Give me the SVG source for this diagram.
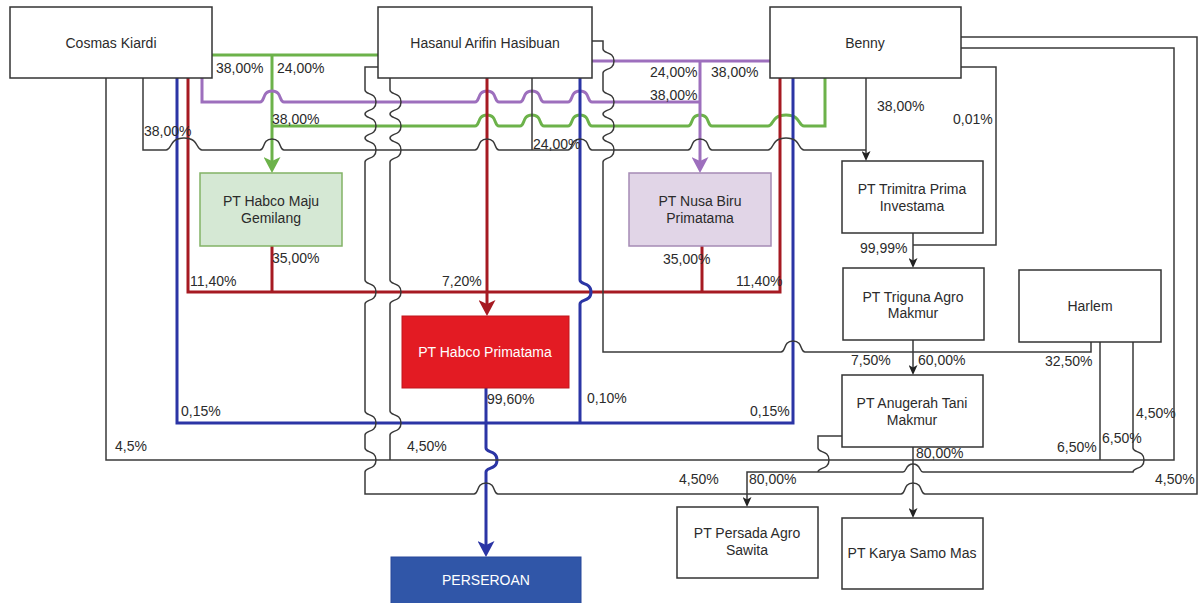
<svg xmlns="http://www.w3.org/2000/svg" width="1203" height="603" viewBox="0 0 1203 603">
<style>
.box{fill:#fff;stroke:#333;stroke-width:1.5}
.t{font-family:"Liberation Sans",Arial,sans-serif;font-size:14px;fill:#2b2b2b;text-anchor:middle}
.lb{font-family:"Liberation Sans",Arial,sans-serif;font-size:14px;fill:#2b2b2b}
.k{fill:none;stroke:#3a3a3a;stroke-width:1.5}
.g{fill:none;stroke:#6cb24a;stroke-width:3}
.p{fill:none;stroke:#9d6fbd;stroke-width:3}
.r{fill:none;stroke:#a61a22;stroke-width:3}
.b{fill:none;stroke:#2b35a5;stroke-width:3}
</style>
<defs>
<marker id="aG" markerUnits="userSpaceOnUse" markerWidth="16" markerHeight="17" viewBox="0 0 16 17" refX="12" refY="8.5" orient="auto"><path d="M0,0 L16,8.5 L0,17 L4,8.5 Z" fill="#6cb24a"/></marker>
<marker id="aP" markerUnits="userSpaceOnUse" markerWidth="16" markerHeight="17" viewBox="0 0 16 17" refX="12" refY="8.5" orient="auto"><path d="M0,0 L16,8.5 L0,17 L4,8.5 Z" fill="#9d6fbd"/></marker>
<marker id="aR" markerUnits="userSpaceOnUse" markerWidth="16" markerHeight="17" viewBox="0 0 16 17" refX="12" refY="8.5" orient="auto"><path d="M0,0 L16,8.5 L0,17 L4,8.5 Z" fill="#a61a22"/></marker>
<marker id="aB" markerUnits="userSpaceOnUse" markerWidth="16" markerHeight="17" viewBox="0 0 16 17" refX="12" refY="8.5" orient="auto"><path d="M0,0 L16,8.5 L0,17 L4,8.5 Z" fill="#2b35a5"/></marker>
<marker id="aK" markerUnits="userSpaceOnUse" markerWidth="10" markerHeight="9" viewBox="0 0 10 9" refX="8" refY="4.5" orient="auto"><path d="M0,0 L10,4.5 L0,9 L2.5,4.5 Z" fill="#222"/></marker>
</defs>
<rect width="1203" height="603" fill="#fff"/>

<g id="connectors">
<!-- green -->
<path class="g" d="M212,55 H378"/>
<path class="g" d="M272,55 V169" marker-end="url(#aG)"/>
<path class="g" d="M825,78 V126 H804 C798,126 801,115 786,115 C771,115 774,126 768,126 H712 C707,126 710,115 700,115 C690,115 693,126 688,126 H592 C587,126 590,115 580,115 C570,115 573,126 568,126 H544 C539,126 542,115 532,115 C522,115 525,126 520,126 H499 C494,126 497,115 487,115 C477,115 480,126 475,126 H272"/>
<!-- purple -->
<path class="p" d="M592,61 H770"/>
<path class="p" d="M700,61 V169" marker-end="url(#aP)"/>
<path class="p" d="M202,78 V102 H260 C265,102 262,91 272,91 C282,91 279,102 284,102 H475 C480,102 477,91 487,91 C497,91 494,102 499,102 H520 C525,102 522,91 532,91 C542,91 539,102 544,102 H568 C573,102 570,91 580,91 C590,91 587,102 592,102 H700"/>
<!-- red -->
<path class="r" d="M188,78 V292 H780 V78"/>
<path class="r" d="M487,78 V312" marker-end="url(#aR)"/>
<path class="r" d="M272,246 V292"/>
<path class="r" d="M702,246 V292"/>
<!-- blue -->
<path class="b" d="M177,78 V423 H793 V78"/>
<path class="b" d="M580,78 V280 C580,285 591,282 591,292 C591,302 580,299 580,304 V423"/>
<path class="b" d="M486,388 V448 C486,453 497,450 497,460 C497,470 486,467 486,472 V553" marker-end="url(#aB)"/>
<!-- black -->
<path class="k" d="M143,78 V150 H166 C172,150 169,138 184,138 C199,138 196,150 202,150 H260 C265,150 262,139 272,139 C282,139 279,150 284,150 H475 C480,150 477,139 487,139 C497,139 494,150 499,150 H568 C573,150 570,139 580,139 C590,139 587,150 592,150 H688 C693,150 690,139 700,139 C710,139 707,150 712,150 H768 C774,150 771,138 786,138 C801,138 798,150 804,150 H866"/>
<path class="k" d="M532,78 V150"/>
<path class="k" d="M866,78 V159" marker-end="url(#aK)"/>
<path class="k" d="M961,67 H996 V245 H913"/>
<path class="k" d="M913,233 V266" marker-end="url(#aK)"/>
<path class="k" d="M913,340 V373" marker-end="url(#aK)"/>
<path class="k" d="M592,41 H603 V49 C603,54 614,51 614,61 C614,71 603,68 603,73 V90 C603,95 614,92 614,102 C614,112 603,109 603,114 C603,119 614,116 614,126 C614,136 603,133 603,138 C603,143 614,140 614,150 C614,160 603,157 603,162 V352 H781 C786,352 783,341 793,341 C803,341 800,352 805,352 H1091 V342"/>
<path class="k" d="M378,67 H365 V90 C365,95 376,92 376,102 C376,112 365,109 365,114 C365,119 376,116 376,126 C376,136 365,133 365,138 C365,143 376,140 376,150 C376,160 365,157 365,162 V280 C365,285 376,282 376,292 C376,302 365,299 365,304 V411 C365,416 376,413 376,423 C376,433 365,430 365,435 V448 C365,453 376,450 376,460 C376,470 365,467 365,472 V494 H474 C479,494 476,483 486,483 C496,483 493,494 498,494 H901 C906,494 903,483 913,483 C923,483 920,494 925,494 H1197 V37 H961"/>
<path class="k" d="M390,78 V90 C390,95 401,92 401,102 C401,112 390,109 390,114 C390,119 401,116 401,126 C401,136 390,133 390,138 C390,143 401,140 401,150 C401,160 390,157 390,162 V280 C390,285 401,282 401,292 C401,302 390,299 390,304 V411 C390,416 401,413 401,423 C401,433 390,430 390,435 V460"/>
<path class="k" d="M106,78 V460 H1174 V48 H961"/>
<path class="k" d="M1100,342 V460"/>
<path class="k" d="M1133,342 V448 C1133,453 1144,450 1144,460 C1144,470 1133,467 1133,472 H923 C919,472 921,464 913,464 C905,464 907,472 903,472 H747 V505" marker-end="url(#aK)"/>
<path class="k" d="M842,436 H818 V448 C818,453 829,450 829,460 C829,470 818,467 818,472"/>
<path class="k" d="M913,447 V516" marker-end="url(#aK)"/>
</g>

<g id="labels">
<text class="lb" x="216" y="73">38,00%</text>
<text class="lb" x="277" y="73">24,00%</text>
<text class="lb" x="272" y="124">38,00%</text>
<text class="lb" x="144" y="136">38,00%</text>
<text class="lb" x="650" y="77">24,00%</text>
<text class="lb" x="711" y="77">38,00%</text>
<text class="lb" x="650" y="100">38,00%</text>
<text class="lb" x="533" y="149">24,00%</text>
<text class="lb" x="877" y="111">38,00%</text>
<text class="lb" x="953" y="124">0,01%</text>
<text class="lb" x="272" y="263">35,00%</text>
<text class="lb" x="190" y="286">11,40%</text>
<text class="lb" x="442" y="286">7,20%</text>
<text class="lb" x="663" y="264">35,00%</text>
<text class="lb" x="736" y="286">11,40%</text>
<text class="lb" x="860" y="253">99,99%</text>
<text class="lb" x="181" y="416">0,15%</text>
<text class="lb" x="115" y="451">4,5%</text>
<text class="lb" x="487" y="404">99,60%</text>
<text class="lb" x="587" y="403">0,10%</text>
<text class="lb" x="750" y="416">0,15%</text>
<text class="lb" x="407" y="451">4,50%</text>
<text class="lb" x="679" y="484">4,50%</text>
<text class="lb" x="749" y="484">80,00%</text>
<text class="lb" x="851" y="365">7,50%</text>
<text class="lb" x="918" y="365">60,00%</text>
<text class="lb" x="1045" y="366">32,50%</text>
<text class="lb" x="1136" y="418">4,50%</text>
<text class="lb" x="1057" y="452">6,50%</text>
<text class="lb" x="1102" y="443">6,50%</text>
<text class="lb" x="916" y="458">80,00%</text>
<text class="lb" x="1155" y="484">4,50%</text>
</g>

<g id="cosmas"><rect class="box" x="10" y="7" width="202" height="71"/><text class="t" x="111" y="48">Cosmas Kiardi</text></g>
<g id="hasanul"><rect class="box" x="378" y="7" width="214" height="71"/><text class="t" x="485" y="48">Hasanul Arifin Hasibuan</text></g>
<g id="benny"><rect class="box" x="770" y="7" width="191" height="71"/><text class="t" x="865" y="48">Benny</text></g>
<g id="habco-maju"><rect x="200" y="173" width="142" height="73" fill="#d5e8d4" stroke="#82b366" stroke-width="1.5"/><text class="t" x="271" y="206">PT Habco Maju</text><text class="t" x="271" y="223">Gemilang</text></g>
<g id="nusa-biru"><rect x="629" y="173" width="142" height="73" fill="#e1d5e7" stroke="#a58bb5" stroke-width="1.5"/><text class="t" x="700" y="206">PT Nusa Biru</text><text class="t" x="700" y="223">Primatama</text></g>
<g id="trimitra"><rect class="box" x="842" y="161" width="141" height="72"/><text class="t" x="912" y="194">PT Trimitra Prima</text><text class="t" x="912" y="211">Investama</text></g>
<g id="triguna"><rect class="box" x="843" y="268" width="141" height="72"/><text class="t" x="913" y="302">PT Triguna Agro</text><text class="t" x="913" y="318">Makmur</text></g>
<g id="harlem"><rect class="box" x="1019" y="270" width="142" height="72"/><text class="t" x="1090" y="311">Harlem</text></g>
<g id="habco-primatama"><rect x="402" y="316" width="167" height="72" fill="#e31b23" stroke="#c0161c" stroke-width="1"/><text class="t" x="485" y="357" style="fill:#fff">PT Habco Primatama</text></g>
<g id="anugerah"><rect class="box" x="842" y="375" width="141" height="72"/><text class="t" x="912" y="408">PT Anugerah Tani</text><text class="t" x="912" y="425">Makmur</text></g>
<g id="persada"><rect class="box" x="677" y="507" width="141" height="71"/><text class="t" x="747" y="538">PT Persada Agro</text><text class="t" x="747" y="555">Sawita</text></g>
<g id="karya"><rect class="box" x="842" y="518" width="141" height="71"/><text class="t" x="912" y="558">PT Karya Samo Mas</text></g>
<g id="perseroan"><rect x="391" y="557" width="190" height="50" fill="#3056a8" stroke="#27479a" stroke-width="1"/><text class="t" x="486" y="585" style="fill:#fff">PERSEROAN</text></g>
</svg>
